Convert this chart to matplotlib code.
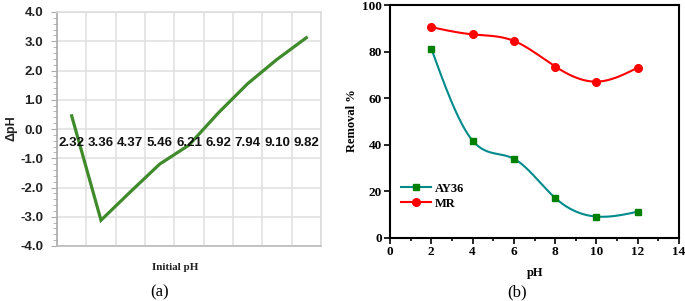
import numpy as np
import matplotlib
matplotlib.use("Agg")
import matplotlib.pyplot as plt
from matplotlib.ticker import MultipleLocator

# ---- data ----
initial_ph_labels = ["2.32", "3.36", "4.37", "5.46", "6.21", "6.92", "7.94", "9.10", "9.82"]
delta_ph = [0.45, -3.12, -2.15, -1.2, -0.55, 0.55, 1.55, 2.38, 3.12]

ph = [2, 4, 6, 8, 10, 12]
ay36 = [81.3, 41.8, 34.0, 17.2, 9.2, 11.3]
mr = [90.5, 87.4, 84.6, 73.6, 67.1, 73.1]


def natural_spline(x, y, n=300):
    x = np.asarray(x, float)
    y = np.asarray(y, float)
    k = len(x)
    h = np.diff(x)
    A = np.zeros((k, k))
    b = np.zeros(k)
    A[0, 0] = 1
    A[-1, -1] = 1
    for i in range(1, k - 1):
        A[i, i - 1] = h[i - 1]
        A[i, i] = 2 * (h[i - 1] + h[i])
        A[i, i + 1] = h[i]
        b[i] = 6 * ((y[i + 1] - y[i]) / h[i] - (y[i] - y[i - 1]) / h[i - 1])
    M = np.linalg.solve(A, b)
    xs = np.linspace(x[0], x[-1], n)
    ys = np.empty_like(xs)
    for j, xv in enumerate(xs):
        i = min(np.searchsorted(x, xv, side="right") - 1, k - 2)
        t1 = x[i + 1] - xv
        t0 = xv - x[i]
        ys[j] = (M[i] * t1 ** 3 / (6 * h[i]) + M[i + 1] * t0 ** 3 / (6 * h[i])
                 + (y[i] / h[i] - M[i] * h[i] / 6) * t1
                 + (y[i + 1] / h[i] - M[i + 1] * h[i] / 6) * t0)
    return xs, ys


fig = plt.figure(figsize=(6.85, 3.01), dpi=100)

# ---- panel (a) ----
ax1 = fig.add_axes([57 / 685, 1 - 246 / 301, (321 - 57) / 685, (246 - 12) / 301])
pos = np.arange(len(initial_ph_labels)) + 0.5
ax1.plot(pos, delta_ph, color="#3f8a2b", lw=2.3, solid_joinstyle="miter", zorder=3)
ax1.set_xlim(0, len(initial_ph_labels))
ax1.set_ylim(-4, 4)
ax1.set_xticks(np.arange(0, len(initial_ph_labels) + 1))
ax1.set_xticklabels([])
ax1.tick_params(axis="x", length=0)
ax1.set_yticks(np.arange(-4, 4.01, 1))
ax1.set_yticklabels([f"{v:.1f}" for v in np.arange(-4, 4.01, 1)])
ax1.yaxis.set_minor_locator(MultipleLocator(0.2))
ax1.tick_params(axis="y", which="major", length=4, color="#aaaaaa", labelsize=9.5,
                labelcolor="#222222", pad=6)
ax1.tick_params(axis="y", which="minor", length=3, color="#aaaaaa")
for lab in ax1.get_yticklabels():
    lab.set_fontweight("bold")
    lab.set_family("Liberation Sans")
ax1.grid(True, color="#e2e2e2", lw=1.2, zorder=0)
for s in ax1.spines.values():
    s.set_color("#dddddd")
    s.set_linewidth(1.2)
ax1.spines["left"].set_color("#aaaaaa")
ax1.spines["bottom"].set_color("#bbbbbb")
for p, lab in zip(pos, initial_ph_labels):
    ax1.text(p, -0.48, lab, ha="center", va="center", fontsize=9.5, fontweight="bold",
             family="Liberation Sans", color="#111111", zorder=4)
fig.text(12 / 685, 1 - 128 / 301, "ΔpH", rotation=90, ha="center", va="center",
         fontsize=9, fontweight="bold", family="Liberation Sans", color="#222222")
fig.text(175 / 685, 1 - 267 / 301, "Initial pH", ha="center", va="center",
         fontsize=8, fontweight="bold", family="Liberation Serif", color="#222222")
fig.text(160 / 685, 1 - 292 / 301, "(a)", ha="center", va="center",
         fontsize=12, family="Liberation Serif")

# ---- panel (b) ----
ax2 = fig.add_axes([390 / 685, 1 - 238 / 301, (679 - 390) / 685, (238 - 5) / 301])
xs, ys = natural_spline(ph, ay36)
ax2.plot(xs, ys, color="#008b8b", lw=1.5)
ax2.plot(ph, ay36, ls="none", marker="s", ms=5, color="#008000")
xs, ys = natural_spline(ph, mr)
ax2.plot(xs, ys, color="#ff0000", lw=1.5)
ax2.plot(ph, mr, ls="none", marker="o", ms=5.5, color="#ff0000")
ax2.plot([], [], color="#008b8b", lw=1.5, marker="s", ms=5, mfc="#008000", mec="#008000",
         label="AY36")
ax2.plot([], [], color="#ff0000", lw=1.5, marker="o", ms=5.5, label="MR")
ax2.set_xlim(0, 14)
ax2.set_ylim(0, 100)
ax2.xaxis.set_major_locator(MultipleLocator(2))
ax2.xaxis.set_minor_locator(MultipleLocator(1))
ax2.yaxis.set_major_locator(MultipleLocator(20))
ax2.tick_params(which="major", direction="out", length=4, width=1.2, labelsize=9.5, pad=2)
ax2.tick_params(which="minor", direction="out", length=2, width=1.2)
for lab in ax2.get_xticklabels() + ax2.get_yticklabels():
    lab.set_fontweight("bold")
    lab.set_family("Liberation Serif")
for s in ax2.spines.values():
    s.set_linewidth(1.5)
leg = ax2.legend(loc="lower left", bbox_to_anchor=(0.02, 0.1), frameon=False,
                 prop={"family": "Liberation Serif", "weight": "bold", "size": 9},
                 handlelength=2.4, handletextpad=0.3, labelspacing=0.25, borderaxespad=0)
fig.text(352 / 685, 1 - 121 / 301, "Removal %", rotation=90, ha="center", va="center",
         fontsize=9, fontweight="bold", family="Liberation Serif")
fig.text(535 / 685, 1 - 273 / 301, "pH", ha="center", va="center",
         fontsize=9, fontweight="bold", family="Liberation Serif")
fig.text(517 / 685, 1 - 292 / 301, "(b)", ha="center", va="center",
         fontsize=12, family="Liberation Serif")

fig.savefig("out.png", dpi=100)
